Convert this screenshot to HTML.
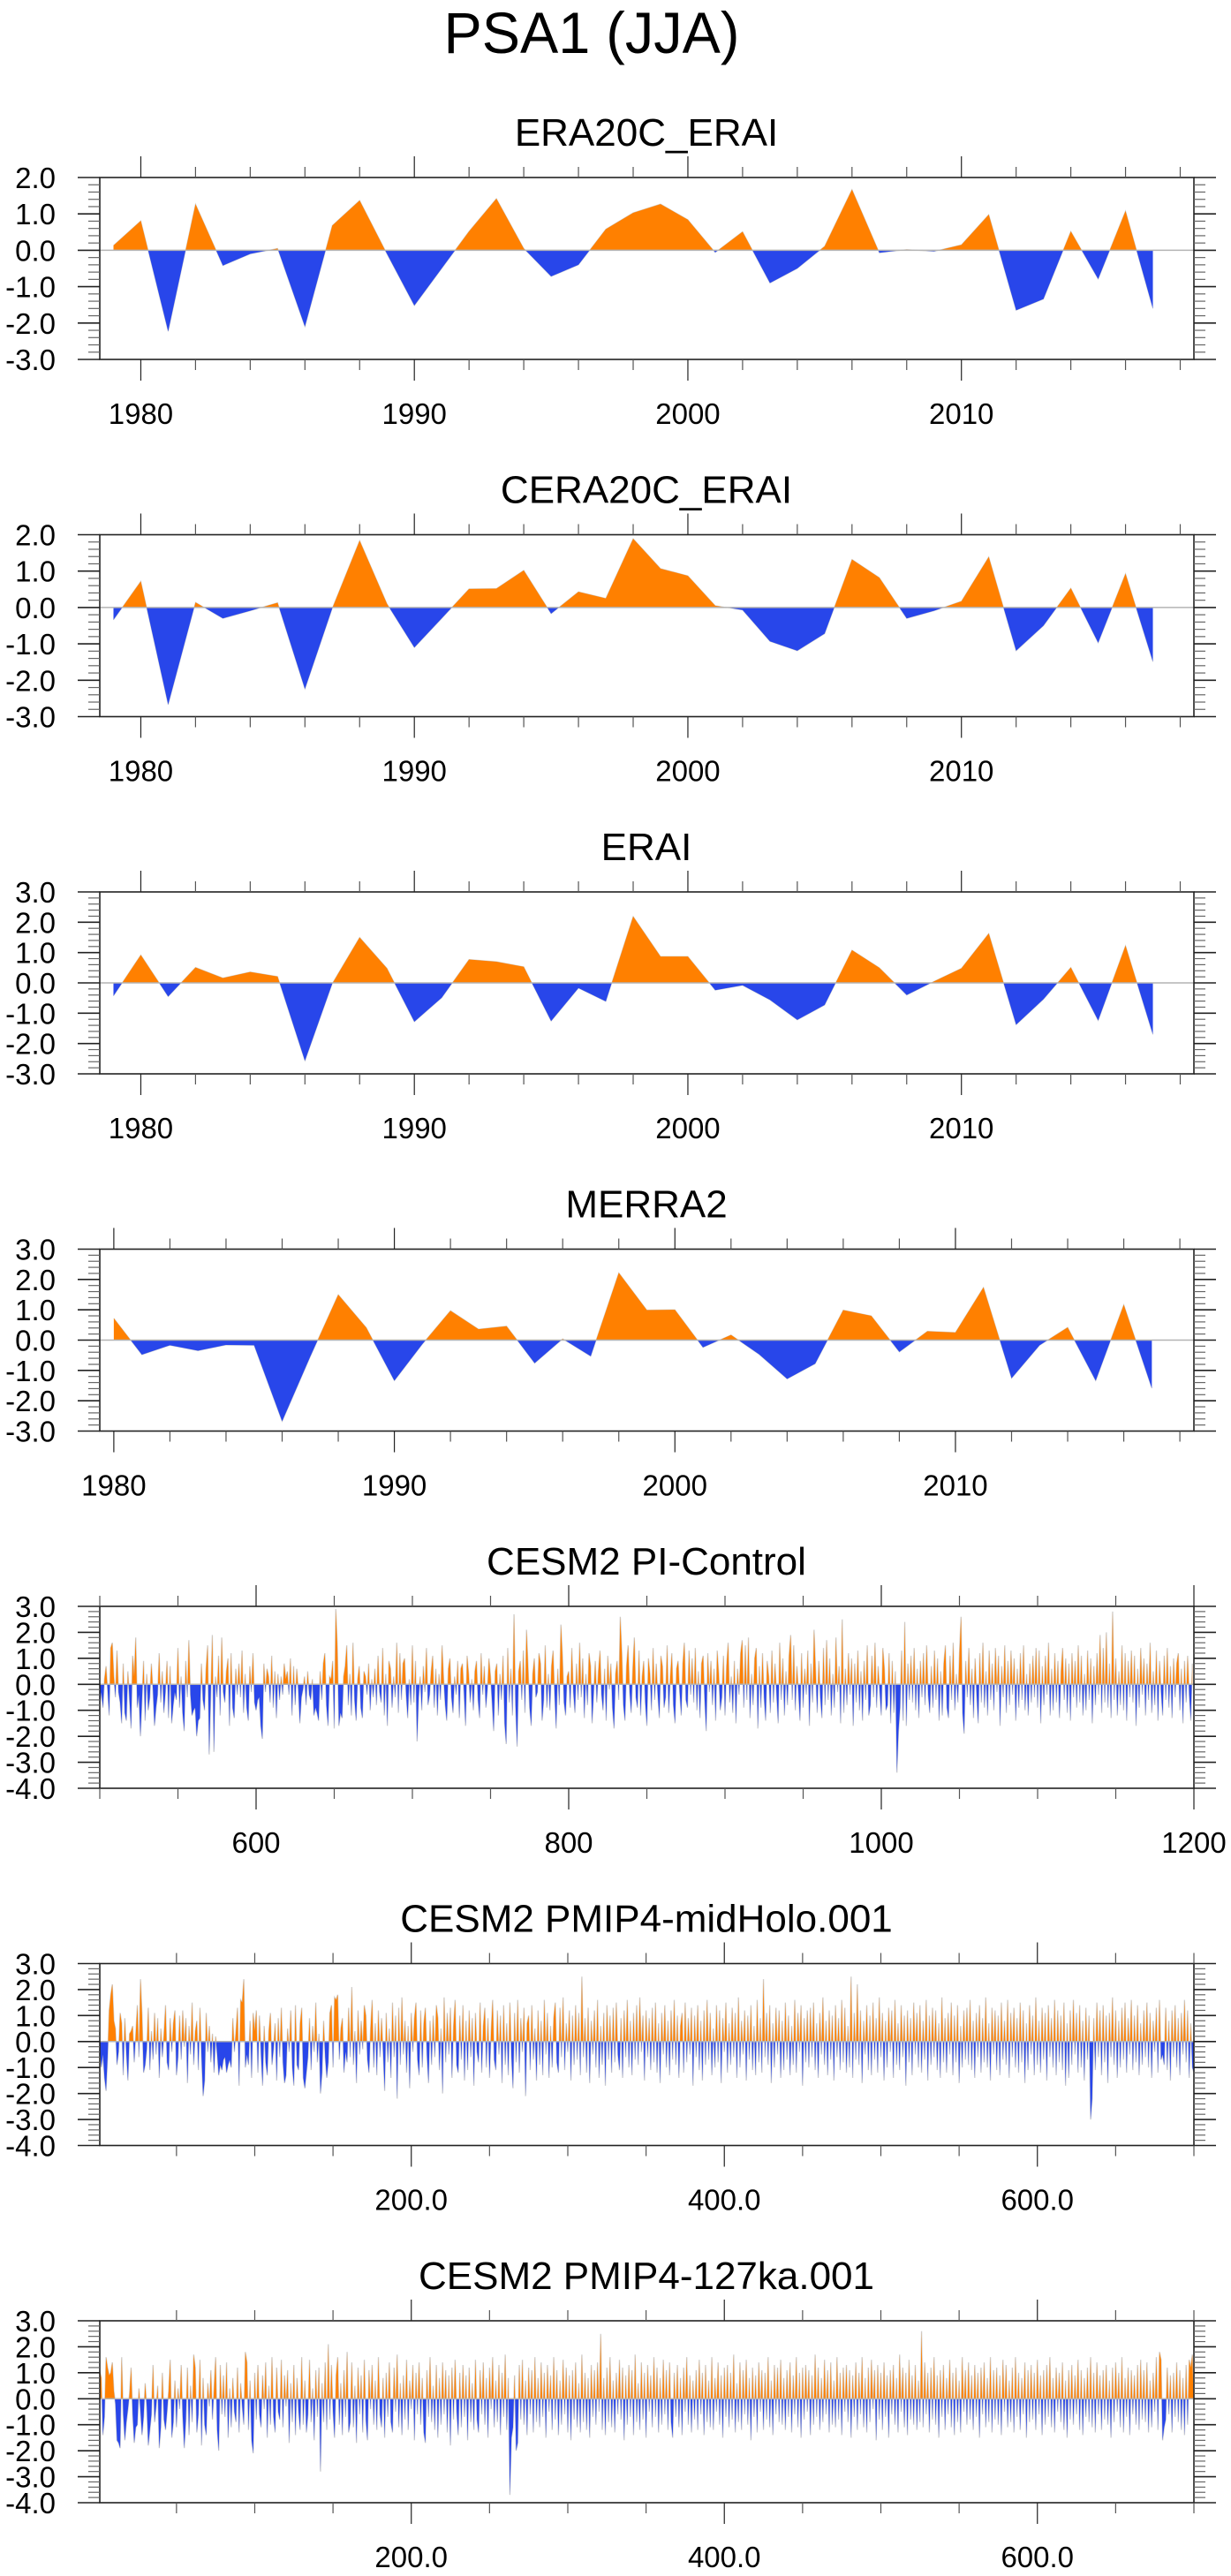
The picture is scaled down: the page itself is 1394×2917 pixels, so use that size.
<!DOCTYPE html>
<html><head><meta charset="utf-8"><title>PSA1 (JJA)</title>
<style>
html,body{margin:0;padding:0;background:#fff;}
svg{display:block;}
text{font-family:"Liberation Sans",sans-serif;fill:#000;}
</style></head>
<body>
<svg id="chart" xmlns="http://www.w3.org/2000/svg" width="1394" height="2917" viewBox="0 0 1394 2917">
<rect x="0" y="0" width="1394" height="2917" fill="#fff"/>
<text x="670" y="60" font-size="66" text-anchor="middle" textLength="335" lengthAdjust="spacingAndGlyphs">PSA1 (JJA)</text>
</svg>
<script>
// ---------- data ----------
const yearsRe = [1979,1980,1981,1982,1983,1984,1985,1986,1987,1988,1989,1990,1991,1992,1993,1994,1995,1996,1997,1998,1999,2000,2001,2002,2003,2004,2005,2006,2007,2008,2009,2010,2011,2012,2013,2014,2015,2016,2017];
const era20cValues = [0.13,0.81,-2.23,1.27,-0.42,-0.1,0.05,-2.1,0.68,1.37,-0.1,-1.52,-0.5,0.52,1.42,0.05,-0.72,-0.4,0.58,1.03,1.27,0.84,-0.06,0.51,-0.9,-0.5,0.11,1.67,-0.07,0.02,-0.03,0.15,0.98,-1.65,-1.34,0.52,-0.79,1.08,-1.6];
const cera20cValues = [-0.34,0.72,-2.67,0.14,-0.3,-0.09,0.13,-2.24,-0.02,1.84,0.1,-1.1,-0.3,0.51,0.52,1.02,-0.17,0.43,0.25,1.89,1.07,0.87,0.05,-0.07,-0.93,-1.19,-0.72,1.32,0.82,-0.3,-0.09,0.17,1.39,-1.19,-0.5,0.53,-0.97,0.93,-1.49];
const eraiValues = [-0.43,0.92,-0.45,0.51,0.16,0.36,0.21,-2.57,-0.02,1.5,0.48,-1.28,-0.49,0.77,0.7,0.53,-1.26,-0.17,-0.61,2.19,0.87,0.87,-0.24,-0.08,-0.56,-1.22,-0.73,1.08,0.5,-0.4,0.05,0.48,1.63,-1.38,-0.54,0.51,-1.24,1.23,-1.7];
const yearsMerra = [1980,1981,1982,1983,1984,1985,1986,1987,1988,1989,1990,1991,1992,1993,1994,1995,1996,1997,1998,1999,2000,2001,2002,2003,2004,2005,2006,2007,2008,2009,2010,2011,2012,2013,2014,2015,2016,2017];
const merra2Values = [0.72,-0.48,-0.17,-0.35,-0.16,-0.17,-2.68,-0.55,1.5,0.41,-1.34,-0.13,0.97,0.36,0.46,-0.76,0.04,-0.53,2.22,0.99,1.0,-0.24,0.17,-0.47,-1.28,-0.78,0.99,0.8,-0.39,0.29,0.25,1.74,-1.26,-0.17,0.42,-1.34,1.17,-1.59];

// long control runs: one value per model year, in tenths
const piStartYear = 500;
const piTenths = [
-8,-3,-9,2,7,-2,-12,14,16,3,-5,13,-3,-7,-15,8,-11,-14,5,-6,
-17,11,3,18,-9,-4,-20,-6,9,-14,4,-10,-5,8,-2,-16,-9,-4,12,-7,
5,-11,-3,9,-13,7,-15,-8,-3,-6,14,-9,3,-11,-18,9,-5,17,-4,-12,
-10,-9,-20,-14,-13,8,-6,-10,6,15,-27,-4,19,-26,3,-5,11,-12,18,-3,
-7,5,10,-16,12,-9,-13,6,-4,8,-5,13,-11,4,-9,-14,7,-3,12,-7,
-10,-6,-5,-16,-21,8,-3,6,3,-7,11,-9,5,-13,4,-6,3,-4,8,2,
5,-4,10,-12,7,-8,6,-2,-15,-5,-2,3,-8,5,-4,-6,2,-12,-9,-11,
-14,5,-6,8,12,-8,-16,3,2,9,-17,29,14,-16,-11,-13,3,7,15,-8,
4,-12,16,-6,-14,2,7,-9,-13,5,3,-4,8,-10,2,-5,6,-8,11,-3,
-7,14,-12,4,-16,9,6,-9,3,-5,16,-11,12,-6,8,10,-4,-13,2,-8,
15,-7,9,-22,-5,3,-10,7,-3,14,-8,-4,5,11,-9,6,-12,4,-6,15,
2,-8,-14,6,10,-5,-11,3,-4,9,-13,6,8,-3,-16,11,4,-7,2,-10,
5,9,-6,-13,12,-4,7,-9,-2,10,3,-7,-18,5,8,-12,4,-6,11,-15,
-23,14,-7,6,-12,27,-8,-24,5,9,-6,13,-11,21,7,-9,-16,4,10,-5,
-3,12,8,-14,-6,15,-9,4,-10,7,13,-4,-17,6,-8,23,11,-7,-12,3,
5,-9,14,-3,-11,8,-6,16,-5,10,-13,4,-8,12,7,-15,-3,9,-7,5,
13,-4,-10,6,-14,11,-2,8,-9,-17,4,9,-6,26,12,-8,-14,7,15,-3,
-11,6,18,-5,-9,13,-12,3,9,-7,-16,10,4,-10,14,-6,8,-4,-13,11,
7,-9,-5,15,-11,3,12,-8,-15,6,9,-3,-12,8,16,-6,-9,13,-4,10,
-7,14,-10,5,-13,8,11,-6,-18,12,-3,9,-8,6,-14,13,4,-10,-5,11,
-12,7,16,-7,3,-11,9,-15,6,-4,12,17,-9,15,-6,18,-13,4,-8,10,
14,-17,7,-9,12,-5,-14,9,3,-11,13,-7,8,-4,-15,16,-6,10,-12,5,
-8,11,19,-6,15,-10,7,-3,-14,12,-9,6,-4,13,-16,8,-7,21,5,-11,
9,-5,-13,14,-8,17,-6,10,-12,4,-9,18,-3,7,-15,25,-11,6,-8,12,
-4,10,-16,8,-7,13,-10,5,-14,9,-6,15,-12,-8,11,-5,16,-9,7,-3,
-12,14,6,-10,-8,12,-15,9,-11,5,-34,-18,-9,13,-14,24,-16,8,-6,11,
-7,14,-10,6,-13,9,-5,12,-8,15,-4,-11,7,-9,13,-6,10,-14,5,-12,
8,15,-9,-13,11,-6,16,-10,4,-7,12,26,-11,-19,9,-5,14,-8,6,-13,
10,-4,-15,12,-7,16,-9,5,-12,13,-6,8,-10,14,-3,11,-16,7,-5,15,
-11,9,-8,13,-4,10,-14,6,-9,12,-6,15,-10,4,-12,8,-7,11,-5,14,
-9,13,-15,7,-8,11,-4,16,-12,6,-10,12,-7,9,-13,5,14,-6,10,-11,
8,-14,12,-5,9,-9,15,-7,11,-12,4,-10,13,-6,10,-15,7,-8,12,-4,
19,-11,14,-7,20,-9,8,-13,28,-6,10,-12,5,-8,15,-10,12,-14,9,-5,
13,-7,11,-16,6,-9,14,-4,10,-12,8,-6,16,-11,5,-8,13,-14,9,-3,
-12,11,-6,14,-9,7,-13,10,-5,8,12,-10,6,-15,9,-7,11,-4,-14,8
];
const midHoloStartYear = 1;
const midHoloTenths = [
-3,-10,-5,-14,-19,-6,12,18,22,8,5,-9,-4,11,7,-13,9,-5,-15,3,
4,6,-8,3,14,-6,24,10,-12,-9,-3,13,-11,4,-7,11,-5,9,-14,5,
-6,3,14,-8,-11,9,-4,7,12,-13,-6,10,-7,12,-2,9,-16,6,-5,15,
-9,4,8,-11,13,-6,-21,-15,11,-4,6,-8,3,-12,2,-5,-13,-9,-11,-7,
-6,-12,-9,-7,-10,9,-4,4,13,-17,16,15,24,-10,-5,-9,8,-14,11,4,
12,-12,10,-5,-17,6,-8,-13,4,11,-9,-3,7,-15,9,-6,13,-8,-16,-13,
5,-4,12,-10,-17,14,-9,-11,7,13,-14,-18,-12,-6,9,-11,6,-4,15,-8,
3,-20,-12,8,-6,-14,-8,11,14,-10,17,16,18,-7,5,9,-12,-4,-8,13,
-6,21,-9,4,-16,12,-5,8,-3,14,10,-7,-12,5,16,-10,7,-13,12,-6,
9,-4,-19,11,-8,5,-14,15,-6,10,-22,13,-9,17,-5,8,-12,6,-18,11,
-4,9,15,-7,-13,12,-10,7,13,-5,-16,8,-9,10,-6,14,9,-11,5,-20,
17,-8,11,-5,13,-14,6,16,-9,-12,10,-7,14,-15,8,-11,12,-6,9,-17,
11,-4,-8,15,-12,6,13,-10,9,-14,4,16,-7,-11,12,-5,10,-16,14,-9,
7,-13,15,-6,-18,11,-8,16,-12,9,-4,13,-21,7,10,-11,14,-7,5,-15,
12,-9,8,-13,16,-5,11,-14,6,-10,9,15,-8,-12,13,-6,17,-11,7,-4,
12,-15,10,-9,14,-7,11,-13,25,-6,9,-12,13,-16,8,-5,12,-10,16,-14,
6,-9,11,-17,14,-7,10,-12,13,-8,15,-5,-11,9,-14,12,-6,16,-10,8,
-13,11,-7,14,-9,17,-4,10,-15,12,-6,9,-11,13,-8,15,-12,7,-16,11,
-5,14,-10,8,-13,12,-7,16,-9,10,-14,6,11,-12,15,-8,9,-5,13,-17,
10,-6,14,-11,8,-15,12,-9,16,-7,11,-13,5,-10,14,-8,12,-16,9,-4,
15,-12,7,-9,13,-6,11,-14,17,-10,8,-5,12,-15,10,-7,14,-11,6,-13,
16,-8,9,-12,24,-6,11,-9,14,-16,7,-10,13,-5,12,-14,8,-11,15,-7,
10,-13,6,-9,16,-12,11,-4,14,-17,9,-8,12,-10,13,-6,15,-11,7,-14,
11,-5,17,-9,8,-13,12,-7,10,-15,14,-6,9,-11,16,-8,13,-12,6,-10,
25,-14,11,-7,22,-9,12,-16,8,-5,14,-11,10,-13,15,-7,9,-12,17,-6,
11,-15,8,-10,13,-4,12,-14,16,-9,7,-11,14,-6,10,-17,12,-8,9,-13,
15,-5,11,-10,14,-12,8,-7,16,-15,10,-9,13,-6,12,-11,7,-14,17,-8,
9,-12,11,-5,15,-13,10,-8,14,-16,6,-10,12,-7,13,-9,16,-11,8,-14,
11,-6,14,-12,9,-8,17,-10,7,-15,13,-5,12,-11,10,-13,15,-7,8,-9,
16,-14,11,-6,13,-10,9,-12,15,-8,12,-16,7,-11,14,-5,10,-13,17,-9,
8,-12,13,-7,11,-15,14,-6,9,-10,16,-13,12,-8,10,-11,15,-17,7,-14,
12,-9,16,-5,11,-12,14,-10,8,-15,13,-7,10,-30,-22,9,-11,15,-6,12,
-13,14,-8,10,-16,11,-6,17,-9,12,-14,8,-10,13,-7,15,-12,9,-5,16,
-11,10,-8,14,-13,7,-9,12,-6,15,-10,11,-14,8,-4,13,-12,16,-7,-5,
-9,13,-11,8,-15,12,-6,14,-10,9,-13,11,-5,16,-8,12,-14,7,-10,-12
];
const ka127StartYear = 1;
const ka127Tenths = [
11,8,-14,-7,16,12,9,10,14,3,-2,-16,-17,-19,16,-6,-16,-9,-4,2,
12,-6,-17,-11,-10,4,-5,-14,-7,6,-3,-18,-12,-6,13,-9,-3,5,-19,-11,
10,-8,-12,-5,3,15,-15,-9,7,-11,4,-4,13,-7,-19,-8,12,-14,5,-9,
17,12,-13,-6,15,-18,8,-10,-14,6,-3,11,-8,4,16,-12,-20,13,-6,9,
-7,14,-15,4,-11,8,-5,-9,12,-13,6,-3,-10,18,14,-12,7,-16,-21,10,
-8,13,-6,-11,9,-4,14,-15,5,-10,16,-7,-13,12,-5,-8,15,-11,9,-3,
11,-17,6,-9,13,-14,8,-5,-12,16,-10,7,-13,-6,15,-9,4,-16,11,-7,
12,-28,6,-9,14,-12,21,-8,13,-5,-15,9,16,-10,6,-14,11,-7,18,-13,
-9,14,-11,5,-17,12,-6,9,-13,15,-8,-16,11,-4,13,-10,7,-12,16,-6,
-11,8,-15,10,-7,14,-9,-13,12,-5,17,-11,6,-14,9,-8,15,-12,7,-4,
13,-16,10,-6,14,-10,8,-13,-17,11,-7,16,-9,5,-12,13,-15,8,-10,14,
-6,11,-13,9,-18,12,-8,15,-5,-14,10,-11,13,-7,9,-16,12,-9,6,-12,
15,-8,-13,11,-6,14,-10,8,-15,12,-4,16,-11,7,-9,13,-14,10,-7,17,
-12,8,-37,-15,-11,9,-20,-17,13,-8,15,-10,7,-14,12,-6,11,-13,16,-9,
8,-11,14,-7,10,-15,13,-5,9,-12,16,-8,11,-14,7,-10,15,-6,12,-13,
9,-16,11,-8,14,-11,6,-13,17,-9,10,-12,8,-15,13,-7,11,-10,14,-5,
25,-12,8,-14,12,-9,16,-11,7,-13,10,-6,15,-8,12,-16,9,-10,13,-7,
11,-14,17,-9,6,-12,14,-8,10,-15,13,-5,9,-11,16,-7,12,-13,8,-10,
15,-6,11,-12,14,-9,-15,10,-7,13,-11,8,-14,12,-5,16,-10,9,-13,7,
-8,11,-12,15,-6,10,-14,13,-9,7,-11,16,-12,8,-5,14,-10,9,-15,12,
-7,13,-11,10,-8,17,-13,6,-9,14,-12,11,-6,15,-10,8,-16,12,-7,9,
-13,14,-5,11,-12,10,-8,16,-11,7,-14,13,-6,12,-9,15,-10,8,-12,11,
-7,14,-13,9,-6,16,-11,10,-15,12,-8,13,-5,11,-14,9,-10,17,-7,12,
-12,8,-9,15,-6,11,-13,14,-10,7,-11,16,-8,10,-14,12,-5,13,-9,11,
-15,9,-7,14,-12,10,-6,16,-11,8,-13,12,-9,15,-4,11,-16,13,-8,10,
-12,14,-7,9,-15,11,-6,13,-10,8,-13,17,-5,12,-11,10,-14,15,-8,9,
-10,13,-12,7,-9,26,-11,14,-6,10,-13,12,-8,16,-10,9,-15,11,-7,13,
-12,8,-6,15,-11,10,-14,12,-9,7,-13,16,-5,11,-10,14,-8,9,-12,13,
-7,10,-15,12,-6,14,-11,8,-9,16,-13,11,-8,12,-10,9,-14,15,-5,13,
-11,7,-9,12,-13,16,-7,10,-12,8,-6,14,-15,11,-9,13,-8,10,-12,15,
-6,9,-14,11,-10,13,-7,16,-11,8,-13,12,-5,10,-9,14,-12,7,-15,11,
-8,13,-10,9,-6,15,-12,11,-14,8,-7,12,-9,16,-11,10,-13,14,-6,9,
-12,11,-8,13,-10,7,-15,12,-9,14,-5,10,-11,16,-13,8,-7,12,-14,11,
-6,9,-10,13,-12,15,-8,11,-9,14,-13,7,-11,10,-5,16,-12,18,15,-16,
-11,-8,12,-6,9,-13,10,-7,14,-9,11,-12,8,-14,13,-10,15,12,17,-7
];

// ---------- layout helpers ----------
const svg = document.getElementById('chart');
const NS = 'http://www.w3.org/2000/svg';
const PL = 113, PR = 1352, PH = 206;
function el(tag, attrs, parent) {
  const e = document.createElementNS(NS, tag);
  for (const k in attrs) e.setAttribute(k, attrs[k]);
  (parent || svg).appendChild(e);
  return e;
}

function drawPanel(cfg, idx) {
  const top = 201 + idx * 404.5;
  const bot = top + PH;
  const g = el('g', {});
  
  
  const xs = v => PL + (v - cfg.xmin) / (cfg.xmax - cfg.xmin) * (PR - PL);
  const ys = v => top + (cfg.ymax - v) / (cfg.ymax - cfg.ymin) * PH;
  const y0 = ys(0);

  const title = el('text', {x: 732, y: top - 36, 'font-size': 44, 'text-anchor': 'middle'}, g);
  
  
  title.textContent = cfg.title;

  // series polygon
  let d = '';
  const n = cfg.values.length;
  for (let i = 0; i < n; i++) {
    const xv = cfg.xvals ? cfg.xvals[i] : cfg.start + i;
    const yv = cfg.values[i] * cfg.unit;
    d += (i === 0 ? 'M' : 'L') + xs(xv).toFixed(2) + ',' + ys(yv).toFixed(2);
  }
  const xFirst = xs(cfg.xvals ? cfg.xvals[0] : cfg.start);
  const xLast = xs(cfg.xvals ? cfg.xvals[n - 1] : cfg.start + n - 1);
  const area = d + 'L' + xLast.toFixed(2) + ',' + y0.toFixed(2) + 'L' + xFirst.toFixed(2) + ',' + y0.toFixed(2) + 'Z';

  const cpA = el('clipPath', {id: 'ca' + idx}, g);
  el('rect', {x: PL, y: top, width: PR - PL, height: y0 - top}, cpA);
  const cpB = el('clipPath', {id: 'cb' + idx}, g);
  el('rect', {x: PL, y: y0, width: PR - PL, height: bot - y0}, cpB);

  const outline = el('path', {d: d, fill: 'none', stroke: '#cfcfcf', 'stroke-width': cfg.dense ? 1.3 : 1}, g);
  
  
  const pos = el('path', {d: area, fill: '#ff8000', 'clip-path': 'url(#ca' + idx + ')'}, g);
  
  
  const neg = el('path', {d: area, fill: '#2846ea', 'clip-path': 'url(#cb' + idx + ')'}, g);
  
  
  const zl = el('line', {x1: PL, x2: PR, y1: y0, y2: y0, stroke: '#b4b4b4', 'stroke-width': 1.5}, g);
  
  

  // frame
  const fr = el('rect', {x: PL, y: top, width: PR - PL, height: PH, fill: 'none', stroke: '#222', 'stroke-width': 1.6}, g);
  
  

  // y ticks
  for (let k = 0; k <= Math.round((cfg.ymax - cfg.ymin) * 5); k++) {
    const v = cfg.ymin + k * 0.2;
    const y = ys(v);
    const major = k % 5 === 0;
    const len = major ? 25 : 13;
    const col = major ? '#222' : '#666';
    el('line', {x1: PL - len, x2: PL, y1: y, y2: y, stroke: col, 'stroke-width': major ? 1.6 : 1.2}, g);
    el('line', {x1: PR, x2: PR + len, y1: y, y2: y, stroke: col, 'stroke-width': major ? 1.6 : 1.2}, g);
    if (major) {
      const t = el('text', {x: 63, y: y + 12, 'font-size': 33, 'text-anchor': 'end'}, g);
      
      
      t.textContent = v.toFixed(1);
    }
  }
  // x ticks
  for (let v = Math.ceil(cfg.xmin / cfg.minor) * cfg.minor; v <= cfg.xmax + 1e-6; v += cfg.minor) {
    const x = xs(v);
    const major = Math.abs(v / cfg.major - Math.round(v / cfg.major)) < 1e-6;
    const len = major ? 24 : 12;
    el('line', {x1: x, x2: x, y1: top - len, y2: top, stroke: major ? '#222' : '#555', 'stroke-width': 1.2}, g);
    el('line', {x1: x, x2: x, y1: bot, y2: bot + len, stroke: major ? '#222' : '#555', 'stroke-width': 1.2}, g);
    if (major) {
      const t = el('text', {x: x, y: bot + 73, 'font-size': 33, 'text-anchor': 'middle'}, g);
      
      
      t.textContent = cfg.fmt(v);
    }
  }
}

const yearFmt = v => String(Math.round(v));
const panels = [
  {name: 'era20c-erai', title: 'ERA20C_ERAI', xvals: yearsRe, values: era20cValues, unit: 1, xmin: 1978.5, xmax: 2018.5, ymin: -3, ymax: 2, minor: 2, major: 10, fmt: yearFmt},
  {name: 'cera20c-erai', title: 'CERA20C_ERAI', xvals: yearsRe, values: cera20cValues, unit: 1, xmin: 1978.5, xmax: 2018.5, ymin: -3, ymax: 2, minor: 2, major: 10, fmt: yearFmt},
  {name: 'erai', title: 'ERAI', xvals: yearsRe, values: eraiValues, unit: 1, xmin: 1978.5, xmax: 2018.5, ymin: -3, ymax: 3, minor: 2, major: 10, fmt: yearFmt},
  {name: 'merra2', title: 'MERRA2', xvals: yearsMerra, values: merra2Values, unit: 1, xmin: 1979.5, xmax: 2018.5, ymin: -3, ymax: 3, minor: 2, major: 10, fmt: yearFmt},
  {name: 'cesm2-pi-control', title: 'CESM2 PI-Control', start: piStartYear, values: piTenths, unit: 0.1, dense: true, xmin: 500, xmax: 1200, ymin: -4, ymax: 3, minor: 50, major: 200, fmt: yearFmt},
  {name: 'cesm2-midholo', title: 'CESM2 PMIP4-midHolo.001', start: midHoloStartYear, values: midHoloTenths, unit: 0.1, dense: true, xmin: 1, xmax: 700, ymin: -4, ymax: 3, minor: 50, major: 200, fmt: v => v.toFixed(1)},
  {name: 'cesm2-127ka', title: 'CESM2 PMIP4-127ka.001', start: ka127StartYear, values: ka127Tenths, unit: 0.1, dense: true, xmin: 1, xmax: 700, ymin: -4, ymax: 3, minor: 50, major: 200, fmt: v => v.toFixed(1)}
];
panels.forEach((p, i) => drawPanel(p, i));
</script>
</body></html>
